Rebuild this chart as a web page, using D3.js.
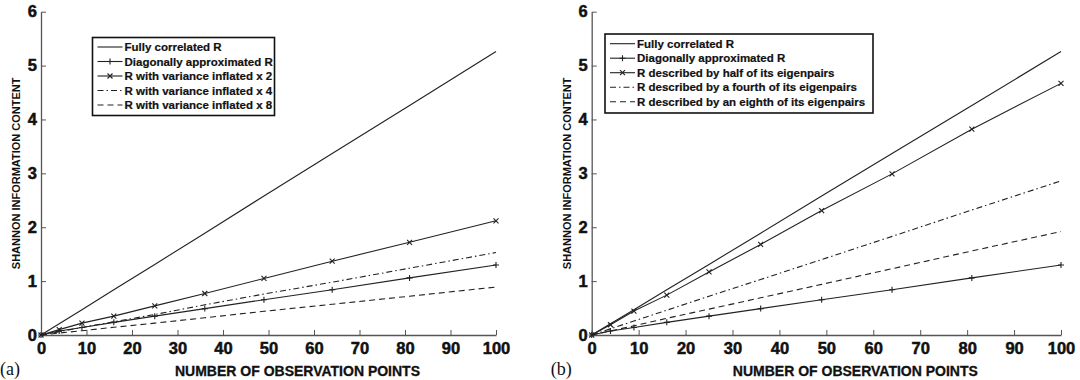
<!DOCTYPE html>
<html>
<head>
<meta charset="utf-8">
<script src="https://cdn.jsdelivr.net/npm/d3@7"></script>
<style>
  body { margin: 0; background: #fff; }
</style>
</head>
<body>
<div id="chart"></div>
<script>
var svgWidth = 1080;
var svgHeight = 380;

// observation points where the curves were sampled
var obsPoints = [0, 4, 9, 16, 25, 36, 49, 64, 81, 100];

var fullyCorrelated = [0, 0.21, 0.47, 0.84, 1.31, 1.89, 2.58, 3.37, 4.26, 5.26];
var diagonalApprox = [0, 0.075, 0.14, 0.235, 0.35, 0.49, 0.655, 0.84, 1.06, 1.30];

// panel (a)
var inflated2 = [0, 0.10, 0.22, 0.35, 0.54, 0.77, 1.05, 1.37, 1.72, 2.12];
var inflated4 = [0, 0.06, 0.14, 0.245, 0.38, 0.56, 0.76, 0.98, 1.24, 1.53];
var inflated8 = [0, 0.036, 0.08, 0.143, 0.22, 0.32, 0.44, 0.57, 0.72, 0.89];

// panel (b)
var halfEigen = [0, 0.19, 0.445, 0.74, 1.17, 1.68, 2.31, 2.99, 3.82, 4.67];
var fourthEigen = [0, 0.115, 0.26, 0.46, 0.72, 1.03, 1.40, 1.83, 2.32, 2.86];
var eighthEigen = [0, 0.077, 0.17, 0.31, 0.48, 0.69, 0.94, 1.23, 1.56, 1.92];

var labelsA = ["Fully correlated R", "Diagonally approximated R", "R with variance inflated x 2",
  "R with variance inflated x 4", "R with variance inflated x 8"];
var labelsB = ["Fully correlated R", "Diagonally approximated R", "R described by half of its eigenpairs",
  "R described by a fourth of its eigenpairs", "R described by an eighth of its eigenpairs"];

var xTicks = [0, 10, 20, 30, 40, 50, 60, 70, 80, 90, 100];
var yTicks = [0, 1, 2, 3, 4, 5, 6];

// line styles per series slot: solid, +, x, dash-dot, dashed
var styles = [
  { dash: null, marker: null },
  { dash: null, marker: "plus" },
  { dash: null, marker: "cross" },
  { dash: "6,3,1.5,3", marker: null },
  { dash: "6,4", marker: null }
];

var sans = "'Liberation Sans', Arial, sans-serif";

var svg = d3.select("#chart")
  .append("svg")
  .attr("width", svgWidth)
  .attr("height", svgHeight);

function markerPath(m) {
  return m == "plus" ? "M-3,0H3M0,-3V3" : "M-2.5,-2.5L2.5,2.5M-2.5,2.5L2.5,-2.5";
}

function drawPanel(left, right, series, labels, tag, legendBox) {
  var top = 11.7, bottom = 335;

  var xScale = d3.scaleLinear().domain([0, 100]).range([left, right]);
  var yScale = d3.scaleLinear().domain([0, 6]).range([bottom, top]);

  var g = svg.append("g");

  // axes, ticks point inward like matlab
  var bottomAxis = d3.axisBottom(xScale).tickValues(xTicks).tickFormat(d3.format("d"))
    .tickSizeInner(-5).tickSizeOuter(0);
  var leftAxis = d3.axisLeft(yScale).tickValues(yTicks).tickFormat(d3.format("d"))
    .tickSizeInner(-5).tickSizeOuter(0);

  var xg = g.append("g").attr("transform", `translate(0, ${bottom})`).call(bottomAxis);
  var yg = g.append("g").attr("transform", `translate(${left}, 0)`).call(leftAxis);

  [xg, yg].forEach(function(a) {
    a.select(".domain").attr("stroke", "#555").attr("stroke-width", 1.3);
    a.selectAll(".tick line").attr("stroke", "#555").attr("stroke-width", 1);
    a.selectAll(".tick text")
      .style("font-family", sans).style("font-weight", "bold").style("font-size", "16.5px")
      .attr("fill", "#111").attr("stroke", "#111").attr("stroke-width", 0.5);
  });
  xg.selectAll(".tick text").attr("y", 7).attr("dy", "0.71em");
  yg.selectAll(".tick text").attr("x", -4);

  // curves
  var line = d3.line()
    .x((d, i) => xScale(obsPoints[i]))
    .y(d => yScale(d));

  series.forEach(function(vals, k) {
    g.append("path")
      .datum(vals)
      .attr("d", line)
      .attr("fill", "none")
      .attr("stroke", "#222")
      .attr("stroke-width", 1.1)
      .attr("stroke-dasharray", styles[k].dash);

    if (styles[k].marker) {
      g.selectAll(".m" + k)
        .data(vals)
        .enter()
        .append("path")
        .attr("transform", (d, i) => `translate(${xScale(obsPoints[i])}, ${yScale(d)})`)
        .attr("d", markerPath(styles[k].marker))
        .attr("stroke", "#222")
        .attr("stroke-width", 1.1);
    }
  });

  // axis titles
  g.append("text")
    .attr("x", (left + right) / 2 + 29)
    .attr("y", 376)
    .attr("text-anchor", "middle")
    .style("font-family", sans).style("font-weight", "bold").style("font-size", "14px")
    .attr("fill", "#111").attr("stroke", "#111").attr("stroke-width", 0.3)
    .text("NUMBER OF OBSERVATION POINTS");

  g.append("text")
    .attr("transform", `translate(${left - 21}, ${(top + bottom) / 2}) rotate(-90)`)
    .attr("text-anchor", "middle")
    .style("font-family", sans).style("font-weight", "bold").style("font-size", "11px")
    .attr("fill", "#111")
    .text("SHANNON INFORMATION CONTENT");

  g.append("text")
    .attr("x", left - 41)
    .attr("y", 375)
    .style("font-family", "'Liberation Serif', 'Times New Roman', serif")
    .style("font-size", "18px")
    .attr("fill", "#111")
    .text(tag);

  // legend
  var lg = g.append("g").attr("transform", `translate(${legendBox.x}, ${legendBox.y})`);
  lg.append("rect")
    .attr("width", legendBox.w)
    .attr("height", legendBox.h)
    .attr("fill", "#fff")
    .attr("stroke", "#111")
    .attr("stroke-width", 1.6);

  labels.forEach(function(lab, k) {
    var ry = legendBox.rowTop + k * legendBox.rowGap;
    lg.append("line")
      .attr("x1", 5).attr("x2", 30)
      .attr("y1", ry).attr("y2", ry)
      .attr("stroke", "#222")
      .attr("stroke-width", 1.1)
      .attr("stroke-dasharray", styles[k].dash);
    if (styles[k].marker) {
      lg.append("path")
        .attr("transform", `translate(17.5, ${ry})`)
        .attr("d", markerPath(styles[k].marker))
        .attr("stroke", "#222")
        .attr("stroke-width", 1.1);
    }
    lg.append("text")
      .attr("x", 32)
      .attr("y", ry)
      .attr("dy", "0.35em")
      .style("font-family", sans).style("font-weight", "bold").style("font-size", "11.5px")
      .attr("fill", "#111").attr("stroke", "#111").attr("stroke-width", 0.2)
      .text(lab);
  });
}

drawPanel(41, 496, [fullyCorrelated, diagonalApprox, inflated2, inflated4, inflated8], labelsA, "(a)",
  { x: 92.5, y: 37.5, w: 182, h: 78, rowTop: 9.5, rowGap: 14.5 });

drawPanel(591.7, 1061, [fullyCorrelated, diagonalApprox, halfEigen, fourthEigen, eighthEigen], labelsB, "(b)",
  { x: 605, y: 34, w: 268, h: 79, rowTop: 9.7, rowGap: 14.5 });
</script>
</body>
</html>
